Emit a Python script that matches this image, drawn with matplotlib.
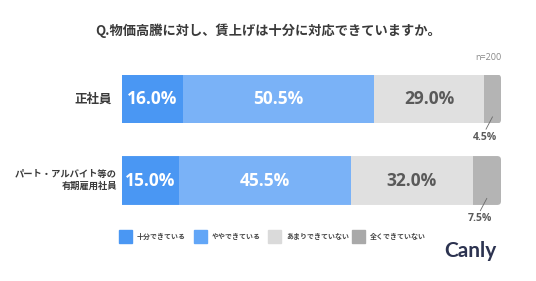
import matplotlib
matplotlib.use("Agg")
import matplotlib.pyplot as plt
from matplotlib.patches import FancyBboxPatch
import numpy as np

plt.rcParams['font.family'] = ['Noto Sans CJK JP', 'DejaVu Sans']

title = "Q.物価高騰に対し、賃上げは十分に対応できていますか。"
categories = ["正社員", "パート・アルバイト等の\n有期雇用社員"]
series_names = ["十分できている", "ややできている", "あまりできていない", "全くできていない"]
values = {
    "十分できている": [16.0, 15.0],
    "ややできている": [50.5, 45.5],
    "あまりできていない": [29.0, 32.0],
    "全くできていない": [4.5, 7.5],
}
bar_colors = ["#4a97f3", "#7ab2f7", "#e0e0e0", "#b4b4b4"]
legend_colors = ["#4a97f3", "#62a6f7", "#dadada", "#a9a9a9"]
text_colors = ["white", "white", "#5a5a5a", None]

W, H = 536, 281
fig = plt.figure(figsize=(W / 100, H / 100), dpi=100)
fig.patch.set_facecolor("white")

ax = fig.add_axes([122 / W, 1 - 221.25 / H, 379 / W, 163 / H])
ax.set_xlim(0, 100)
ax.set_ylim(1.5, -0.5)
ax.axis("off")

bar_h = 0.6
y = np.arange(len(categories))
totals = np.sum([values[n] for n in series_names], axis=0)

# rounded right ends via clip patches
clips = []
for j in range(len(categories)):
    p = FancyBboxPatch((-5, y[j] - bar_h / 2), totals[j] + 5, bar_h,
                       boxstyle="round,pad=0,rounding_size=1.0",
                       mutation_aspect=0.045, transform=ax.transData,
                       facecolor="none", edgecolor="none")
    ax.add_patch(p)
    clips.append(p)

left = np.zeros(len(categories))
for i, name in enumerate(series_names):
    vals = np.array(values[name])
    bars = ax.barh(y, vals, left=left, height=bar_h, color=bar_colors[i], edgecolor="none")
    for j, b in enumerate(bars):
        b.set_clip_path(clips[j])
    for j, v in enumerate(vals):
        if text_colors[i] is not None:
            ax.text(left[j] + v / 2, y[j], f"{v:.1f}%", ha="center", va="center",
                    color=text_colors[i], fontsize=12.5, fontweight="bold",
                    family=["Open Sans", "DejaVu Sans"])
        else:
            cx = left[j] + v / 2
            ax.text(cx - 1.9, y[j] + 0.47, f"{v:.1f}%", ha="center", va="center",
                    fontsize=7.5, fontweight="bold", color="#5a5a5a",
                    family=["Open Sans", "DejaVu Sans"], zorder=5)
            ax.plot([cx, cx - 1.7], [y[j] + 0.22, y[j] + 0.37], color="#6a6a6a",
                    lw=0.6, zorder=5, clip_on=False)
    left = left + vals

# category labels
fig.text(112 / W, 1 - 99 / H, categories[0], ha="right", va="center",
         fontsize=9, fontweight="bold", color="#3a3a3a")
fig.text(117 / W, 1 - 180.5 / H, categories[1], ha="right", va="center",
         fontsize=6.7, fontweight="bold", color="#3a3a3a", linespacing=1.45)

# title
fig.text(268 / W, 1 - 31 / H, title, ha="center", va="center",
         fontsize=9.5, fontweight="bold", color="#3a3a3a")
fig.text(501 / W, 1 - 58 / H, "n=200", ha="right", va="center",
         fontsize=6.5, color="#888888", family=["Open Sans", "DejaVu Sans"])

# legend
leg_x = [119, 194, 268, 352]
for i, name in enumerate(series_names):
    fig.patches.append(plt.Rectangle((leg_x[i] / W, 1 - 243 / H), 13 / W, 13 / H,
                                     transform=fig.transFigure, color=legend_colors[i]))
    fig.text((leg_x[i] + 18) / W, 1 - 236.5 / H, name, ha="left", va="center",
             fontsize=5, fontweight="bold", color="#444444")

# logo
fig.text(470 / W, 1 - 251 / H, "Canly", ha="center", va="center",
         fontsize=15, fontweight="bold", color="#2c3350",
         family=["Lato", "DejaVu Sans"])

fig.savefig("out.png", dpi=100, facecolor="white")
